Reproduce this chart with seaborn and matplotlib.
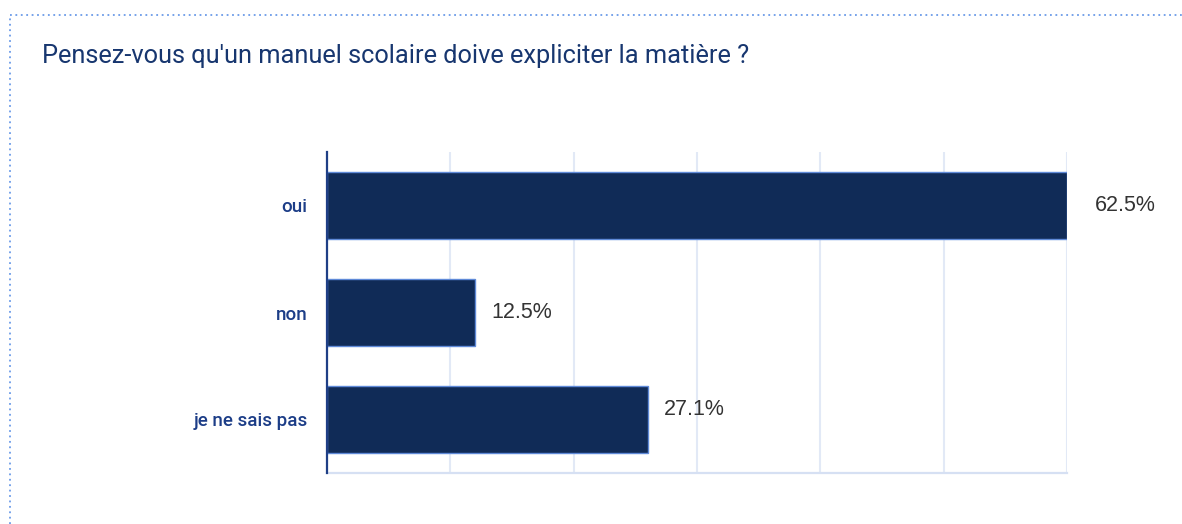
import matplotlib
matplotlib.use("Agg")
import matplotlib.pyplot as plt
from matplotlib.lines import Line2D
import seaborn as sns
import pandas as pd
import numpy as np

categories = ["oui", "non", "je ne sais pas"]
values = [62.5, 12.5, 27.1]
value_labels = ["62.5%", "12.5%", "27.1%"]
title = "Pensez-vous qu'un manuel scolaire doive expliciter la matière ?"

sns.set_theme(style="white")
plt.rcParams['font.family'] = ['Liberation Sans', 'DejaVu Sans']

df = pd.DataFrame({"cat": categories, "val": values})

fig = plt.figure(figsize=(11.82, 5.24), dpi=100)
ax = fig.add_axes([327/1182, 1-473/524, (1067-327)/1182, (473-152)/524])

sns.barplot(data=df, y="cat", x="val", orient="h", ax=ax, color="#102b57",
            width=0.63, edgecolor="#5f8ad8", linewidth=1.0, saturation=1, zorder=3)

xmax = max(values)
ax.set_xlim(0, xmax)
ax.set_ylim(2.5, -0.5)
ax.set_xticks(np.linspace(0, xmax, 7))
ax.set_xticklabels([])
ax.grid(axis="x", color="#e2e9f6", linewidth=1.5, zorder=0)
ax.grid(axis="y", visible=False)
ax.set_axisbelow(True)
ax.set_xlabel("")
ax.set_ylabel("")
for s in ["top", "right"]:
    ax.spines[s].set_visible(False)
ax.spines["left"].set_color("#1f3f86")
ax.spines["left"].set_linewidth(1.6)
ax.spines["left"].set_zorder(5)
ax.spines["bottom"].set_color("#d6e0f3")
ax.spines["bottom"].set_linewidth(1.6)
ax.tick_params(axis="y", length=0, pad=14, labelsize=13.5, labelcolor="#1c3d87")
for t in ax.get_yticklabels():
    t.set_family(["Roboto", "DejaVu Sans"])
    t.set_fontweight("medium")
ax.tick_params(axis="x", length=0)

offsets = [(28, 0), (16, 0), (16, 10)]
for i, (v, lab) in enumerate(zip(values, value_labels)):
    ax.annotate(lab, xy=(v, i), xytext=offsets[i], textcoords="offset pixels",
                ha="left", va="center", fontsize=15.5, color="#333333",
                annotation_clip=False, zorder=6)

fig.text(42/1182, 1-56/524, title, ha="left", va="center", fontsize=18.3,
         color="#17366f", family=["Roboto", "DejaVu Sans"])

# dotted frame
fig.add_artist(Line2D([10/1182, 1.0], [1-15/524, 1-15/524], transform=fig.transFigure,
                      color="#6b9be8", linestyle=(0, (1, 2)), linewidth=1.3))
fig.add_artist(Line2D([10/1182, 10/1182], [0, 1-15/524], transform=fig.transFigure,
                      color="#6b9be8", linestyle=(0, (1, 2)), linewidth=1.3))

fig.savefig("out.png", dpi=100, facecolor="white")
